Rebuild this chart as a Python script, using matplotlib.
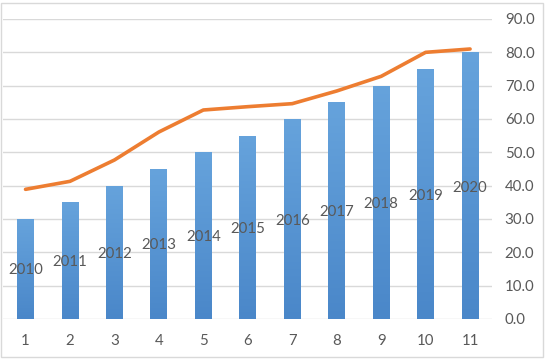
import matplotlib
matplotlib.use("Agg")
import matplotlib.pyplot as plt
import numpy as np
from matplotlib.patches import Rectangle
from matplotlib.colors import LinearSegmentedColormap

categories = [1, 2, 3, 4, 5, 6, 7, 8, 9, 10, 11]
bar_values = [30, 35, 40, 45, 50, 55, 60, 65, 70, 75, 80]
line_values = [38.9, 41.3, 47.7, 56.1, 62.7, 63.7, 64.6, 68.4, 72.8, 80.0, 81.0]
years = [2010, 2011, 2012, 2013, 2014, 2015, 2016, 2017, 2018, 2019, 2020]
y_ticks = [0, 10, 20, 30, 40, 50, 60, 70, 80, 90]

plt.rcParams['font.family'] = ['Lato', 'DejaVu Sans']
text_color = '#595959'

fig = plt.figure(figsize=(5.5, 3.62), dpi=100)
ax = fig.add_axes([3.3/550, 1-319/362, (492.3-3.3)/550, 300/362])
ax2 = ax.twinx()

x = np.arange(len(categories))
bars = ax.bar(x, bar_values, width=0.38, color='#5b9bd5', zorder=2)

# vertical gradient inside each bar
grad = np.linspace(0, 1, 256).reshape(-1, 1)
cmap = LinearSegmentedColormap.from_list('b', ['#4a87c9', '#66a3dc'])
for b in bars:
    im = ax.imshow(grad, cmap=cmap, aspect='auto', origin='lower',
                   extent=[b.get_x(), b.get_x()+b.get_width(), 0, b.get_height()],
                   zorder=2.5)
    im.set_clip_path(b)

ax.plot(x, line_values, color='#ed7d31', lw=2.6, zorder=4, solid_capstyle='round')

ax.set_xlim(-0.5, len(categories)-0.5)
ax.set_ylim(0, 90)
ax.set_yticks(y_ticks)
ax.set_yticklabels([f"{v:.1f}" for v in y_ticks])
ax.yaxis.tick_right()
ax.yaxis.set_label_position('right')
ax.set_xticks(x)
ax.set_xticklabels([str(c) for c in categories])
ax.tick_params(axis='both', length=0, colors=text_color, labelsize=10.8)
ax.tick_params(axis='y', pad=9, left=False, labelleft=False, right=False, labelright=True)
ax.tick_params(axis='x', pad=11)
ax.grid(axis='y', color='#d9d9d9', lw=1, zorder=0)
for s in ax.spines.values():
    s.set_visible(False)
ax.set_axisbelow(True)

# year series on hidden secondary axis, shown only as labels
ax2.set_ylim(2004.05, 2040.5)
ax2.set_axis_off()
for xi, yr in zip(x, years):
    ax2.text(xi, yr, str(yr), ha='center', va='center', fontsize=10.8,
             color=text_color, zorder=5)

# chart area border
fig.patches.append(Rectangle((1/550, 1-357/362), 542/550, 354/362,
                             transform=fig.transFigure, fill=False,
                             edgecolor='#d9d9d9', lw=1))

fig.savefig('out.png', dpi=100)
